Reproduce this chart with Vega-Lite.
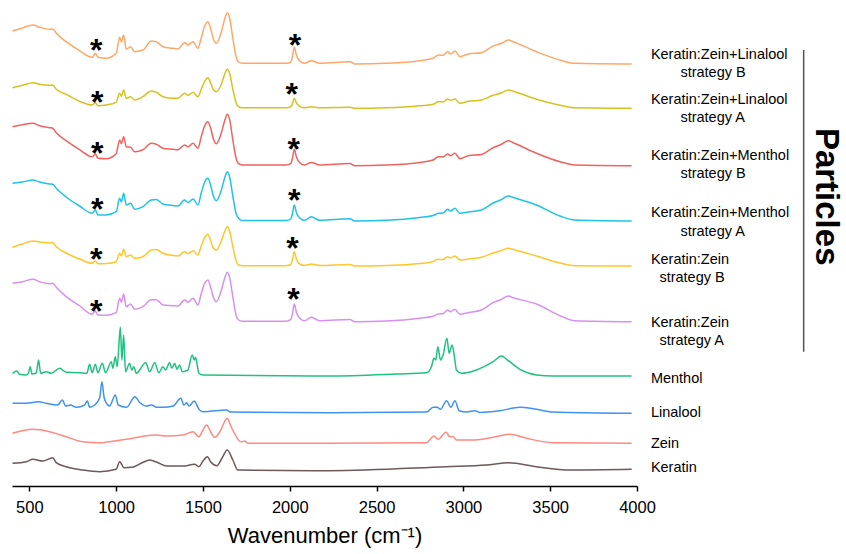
{
"$schema": "https://vega.github.io/schema/vega-lite/v6.json",
"width": 625, "height": 486,
"autosize": {"type": "none"},
"padding": {"left": 12, "top": 0, "right": 209, "bottom": 68},
"background": "white",
"config": {"view": {"stroke": null}, "font": "Liberation Sans"},
"datasets": {
"spectra": [
{"s":"LB","wn":403,"a":455},{"s":"LB","wn":460,"a":458},{"s":"LB","wn":520,"a":461},{"s":"LB","wn":559,"a":458.7},{"s":"LB","wn":616,"a":456.7},{"s":"LB","wn":635,"a":457},{"s":"LB","wn":655,"a":452.7},{"s":"LB","wn":712,"a":444.3},{"s":"LB","wn":789,"a":435.3},{"s":"LB","wn":862,"a":428.7},{"s":"LB","wn":880,"a":432.7},{"s":"LB","wn":895,"a":428.7},{"s":"LB","wn":943,"a":427.7},{"s":"LB","wn":1000,"a":432.7},{"s":"LB","wn":1020,"a":448.7},{"s":"LB","wn":1030,"a":444.3},{"s":"LB","wn":1043,"a":451},{"s":"LB","wn":1058,"a":436.7},{"s":"LB","wn":1083,"a":439.3},{"s":"LB","wn":1106,"a":434.3},{"s":"LB","wn":1154,"a":436},{"s":"LB","wn":1202,"a":445},{"s":"LB","wn":1231,"a":444.3},{"s":"LB","wn":1269,"a":439.3},{"s":"LB","wn":1327,"a":437.7},{"s":"LB","wn":1356,"a":437},{"s":"LB","wn":1394,"a":443.3},{"s":"LB","wn":1414,"a":441},{"s":"LB","wn":1443,"a":444.3},{"s":"LB","wn":1471,"a":437.7},{"s":"LB","wn":1490,"a":448},{"s":"LB","wn":1510,"a":460},{"s":"LB","wn":1528,"a":464.3},{"s":"LB","wn":1545,"a":457},{"s":"LB","wn":1560,"a":447},{"s":"LB","wn":1577,"a":442.7},{"s":"LB","wn":1606,"a":454.3},{"s":"LB","wn":1625,"a":467},{"s":"LB","wn":1640,"a":473.3},{"s":"LB","wn":1655,"a":467},{"s":"LB","wn":1670,"a":450},{"s":"LB","wn":1690,"a":430},{"s":"LB","wn":1705,"a":424},{"s":"LB","wn":1725,"a":422.7},{"s":"LB","wn":1980,"a":422.7},{"s":"LB","wn":2005,"a":424},{"s":"LB","wn":2015,"a":429},{"s":"LB","wn":2026,"a":438.7},{"s":"LB","wn":2038,"a":431},{"s":"LB","wn":2057,"a":425},{"s":"LB","wn":2085,"a":422.7},{"s":"LB","wn":2124,"a":425.3},{"s":"LB","wn":2172,"a":422.7},{"s":"LB","wn":2346,"a":424.3},{"s":"LB","wn":2375,"a":422},{"s":"LB","wn":2557,"a":422.7},{"s":"LB","wn":2749,"a":425.3},{"s":"LB","wn":2826,"a":427.7},{"s":"LB","wn":2855,"a":431},{"s":"LB","wn":2883,"a":430.7},{"s":"LB","wn":2909,"a":434.3},{"s":"LB","wn":2926,"a":432},{"s":"LB","wn":2951,"a":435},{"s":"LB","wn":2980,"a":429.3},{"s":"LB","wn":3028,"a":432},{"s":"LB","wn":3104,"a":433.3},{"s":"LB","wn":3171,"a":440},{"s":"LB","wn":3220,"a":442.7},{"s":"LB","wn":3258,"a":446},{"s":"LB","wn":3287,"a":444.3},{"s":"LB","wn":3421,"a":434.3},{"s":"LB","wn":3556,"a":426},{"s":"LB","wn":3642,"a":422.7},{"s":"LB","wn":3969,"a":422},
{"s":"LA","wn":403,"a":398.3},{"s":"LA","wn":460,"a":400.7},{"s":"LA","wn":520,"a":403.3},{"s":"LA","wn":559,"a":401.7},{"s":"LA","wn":616,"a":400.7},{"s":"LA","wn":635,"a":401},{"s":"LA","wn":655,"a":396.7},{"s":"LA","wn":712,"a":391.7},{"s":"LA","wn":789,"a":384.7},{"s":"LA","wn":862,"a":381},{"s":"LA","wn":880,"a":383.3},{"s":"LA","wn":895,"a":380.3},{"s":"LA","wn":943,"a":381},{"s":"LA","wn":1000,"a":383.7},{"s":"LA","wn":1020,"a":392.7},{"s":"LA","wn":1030,"a":389.7},{"s":"LA","wn":1043,"a":396},{"s":"LA","wn":1058,"a":387.7},{"s":"LA","wn":1083,"a":389.3},{"s":"LA","wn":1106,"a":386},{"s":"LA","wn":1154,"a":389.3},{"s":"LA","wn":1202,"a":395},{"s":"LA","wn":1231,"a":393.7},{"s":"LA","wn":1269,"a":389.3},{"s":"LA","wn":1327,"a":387.7},{"s":"LA","wn":1356,"a":387.7},{"s":"LA","wn":1394,"a":392.7},{"s":"LA","wn":1414,"a":390.7},{"s":"LA","wn":1443,"a":393.7},{"s":"LA","wn":1471,"a":389.3},{"s":"LA","wn":1490,"a":396.7},{"s":"LA","wn":1510,"a":404.7},{"s":"LA","wn":1528,"a":408.3},{"s":"LA","wn":1545,"a":402.7},{"s":"LA","wn":1560,"a":396.2},{"s":"LA","wn":1577,"a":394.3},{"s":"LA","wn":1606,"a":401.7},{"s":"LA","wn":1625,"a":411.7},{"s":"LA","wn":1640,"a":416.7},{"s":"LA","wn":1655,"a":411.7},{"s":"LA","wn":1670,"a":398.7},{"s":"LA","wn":1690,"a":383.7},{"s":"LA","wn":1705,"a":379.3},{"s":"LA","wn":1725,"a":378.2},{"s":"LA","wn":1980,"a":378.2},{"s":"LA","wn":2005,"a":379.2},{"s":"LA","wn":2015,"a":382.2},{"s":"LA","wn":2026,"a":387.7},{"s":"LA","wn":2038,"a":383.2},{"s":"LA","wn":2057,"a":379.7},{"s":"LA","wn":2085,"a":378.2},{"s":"LA","wn":2124,"a":379.3},{"s":"LA","wn":2172,"a":378.2},{"s":"LA","wn":2346,"a":378.7},{"s":"LA","wn":2375,"a":377.7},{"s":"LA","wn":2557,"a":378.2},{"s":"LA","wn":2749,"a":380.2},{"s":"LA","wn":2826,"a":381.7},{"s":"LA","wn":2855,"a":384.3},{"s":"LA","wn":2883,"a":384},{"s":"LA","wn":2909,"a":387},{"s":"LA","wn":2926,"a":385.7},{"s":"LA","wn":2951,"a":387},{"s":"LA","wn":2980,"a":382.7},{"s":"LA","wn":3028,"a":384.7},{"s":"LA","wn":3104,"a":386},{"s":"LA","wn":3171,"a":390.7},{"s":"LA","wn":3220,"a":393.2},{"s":"LA","wn":3258,"a":396},{"s":"LA","wn":3287,"a":394.7},{"s":"LA","wn":3421,"a":386.7},{"s":"LA","wn":3556,"a":380.7},{"s":"LA","wn":3642,"a":378.2},{"s":"LA","wn":3969,"a":377.7},
{"s":"MB","wn":403,"a":359.3},{"s":"MB","wn":460,"a":361.3},{"s":"MB","wn":520,"a":362.7},{"s":"MB","wn":559,"a":360.3},{"s":"MB","wn":616,"a":358.3},{"s":"MB","wn":635,"a":357.7},{"s":"MB","wn":655,"a":353.3},{"s":"MB","wn":712,"a":345.3},{"s":"MB","wn":789,"a":336.3},{"s":"MB","wn":862,"a":329.3},{"s":"MB","wn":880,"a":332},{"s":"MB","wn":895,"a":327.8},{"s":"MB","wn":943,"a":327.3},{"s":"MB","wn":1000,"a":332.3},{"s":"MB","wn":1020,"a":346},{"s":"MB","wn":1030,"a":342.3},{"s":"MB","wn":1043,"a":349.3},{"s":"MB","wn":1058,"a":339.3},{"s":"MB","wn":1083,"a":338.8},{"s":"MB","wn":1106,"a":334.3},{"s":"MB","wn":1154,"a":336.3},{"s":"MB","wn":1202,"a":342.7},{"s":"MB","wn":1231,"a":341.8},{"s":"MB","wn":1269,"a":337.8},{"s":"MB","wn":1327,"a":336.8},{"s":"MB","wn":1356,"a":336.3},{"s":"MB","wn":1394,"a":341},{"s":"MB","wn":1414,"a":339.3},{"s":"MB","wn":1443,"a":342.7},{"s":"MB","wn":1471,"a":337.7},{"s":"MB","wn":1490,"a":349.3},{"s":"MB","wn":1510,"a":360.3},{"s":"MB","wn":1528,"a":364.3},{"s":"MB","wn":1545,"a":357.3},{"s":"MB","wn":1560,"a":347.3},{"s":"MB","wn":1577,"a":342.3},{"s":"MB","wn":1606,"a":353.3},{"s":"MB","wn":1625,"a":365.3},{"s":"MB","wn":1640,"a":371.7},{"s":"MB","wn":1655,"a":365.3},{"s":"MB","wn":1670,"a":348.3},{"s":"MB","wn":1690,"a":328.3},{"s":"MB","wn":1705,"a":322.3},{"s":"MB","wn":1725,"a":321},{"s":"MB","wn":1980,"a":321},{"s":"MB","wn":2005,"a":322.3},{"s":"MB","wn":2015,"a":327.3},{"s":"MB","wn":2026,"a":336.7},{"s":"MB","wn":2038,"a":329.3},{"s":"MB","wn":2057,"a":323.3},{"s":"MB","wn":2085,"a":321},{"s":"MB","wn":2124,"a":323.6},{"s":"MB","wn":2172,"a":321},{"s":"MB","wn":2346,"a":322.6},{"s":"MB","wn":2375,"a":320.3},{"s":"MB","wn":2557,"a":321},{"s":"MB","wn":2749,"a":323.6},{"s":"MB","wn":2826,"a":326},{"s":"MB","wn":2855,"a":329.3},{"s":"MB","wn":2883,"a":329},{"s":"MB","wn":2909,"a":332},{"s":"MB","wn":2926,"a":330.3},{"s":"MB","wn":2951,"a":332.7},{"s":"MB","wn":2980,"a":327.3},{"s":"MB","wn":3028,"a":330.3},{"s":"MB","wn":3104,"a":331.6},{"s":"MB","wn":3171,"a":338.3},{"s":"MB","wn":3220,"a":341.8},{"s":"MB","wn":3258,"a":345.3},{"s":"MB","wn":3287,"a":343.3},{"s":"MB","wn":3421,"a":332.8},{"s":"MB","wn":3556,"a":324.3},{"s":"MB","wn":3642,"a":321},{"s":"MB","wn":3969,"a":320.3},
{"s":"MA","wn":403,"a":302.7},{"s":"MA","wn":460,"a":304},{"s":"MA","wn":520,"a":306},{"s":"MA","wn":559,"a":304},{"s":"MA","wn":616,"a":302},{"s":"MA","wn":635,"a":301.7},{"s":"MA","wn":655,"a":297.7},{"s":"MA","wn":712,"a":289},{"s":"MA","wn":789,"a":280},{"s":"MA","wn":862,"a":272.7},{"s":"MA","wn":880,"a":276},{"s":"MA","wn":895,"a":271},{"s":"MA","wn":943,"a":271},{"s":"MA","wn":1000,"a":274.3},{"s":"MA","wn":1020,"a":287.7},{"s":"MA","wn":1030,"a":284},{"s":"MA","wn":1043,"a":292.7},{"s":"MA","wn":1058,"a":281},{"s":"MA","wn":1083,"a":282.7},{"s":"MA","wn":1106,"a":276.7},{"s":"MA","wn":1154,"a":279.3},{"s":"MA","wn":1202,"a":286},{"s":"MA","wn":1231,"a":286.5},{"s":"MA","wn":1269,"a":282},{"s":"MA","wn":1327,"a":280.5},{"s":"MA","wn":1356,"a":280},{"s":"MA","wn":1394,"a":286},{"s":"MA","wn":1414,"a":283.5},{"s":"MA","wn":1443,"a":287},{"s":"MA","wn":1471,"a":281},{"s":"MA","wn":1490,"a":293},{"s":"MA","wn":1510,"a":304},{"s":"MA","wn":1528,"a":307.7},{"s":"MA","wn":1545,"a":300},{"s":"MA","wn":1560,"a":290},{"s":"MA","wn":1577,"a":285.3},{"s":"MA","wn":1606,"a":296},{"s":"MA","wn":1625,"a":308},{"s":"MA","wn":1640,"a":314.3},{"s":"MA","wn":1655,"a":308},{"s":"MA","wn":1670,"a":292},{"s":"MA","wn":1690,"a":273},{"s":"MA","wn":1705,"a":267.7},{"s":"MA","wn":1725,"a":265.5},{"s":"MA","wn":1980,"a":265.5},{"s":"MA","wn":2005,"a":267},{"s":"MA","wn":2015,"a":272},{"s":"MA","wn":2026,"a":281},{"s":"MA","wn":2038,"a":273.5},{"s":"MA","wn":2057,"a":268},{"s":"MA","wn":2085,"a":265.7},{"s":"MA","wn":2124,"a":269.3},{"s":"MA","wn":2172,"a":265.7},{"s":"MA","wn":2346,"a":267.3},{"s":"MA","wn":2375,"a":265},{"s":"MA","wn":2557,"a":265.7},{"s":"MA","wn":2749,"a":268.5},{"s":"MA","wn":2826,"a":270.5},{"s":"MA","wn":2855,"a":272.7},{"s":"MA","wn":2883,"a":273},{"s":"MA","wn":2909,"a":276.7},{"s":"MA","wn":2926,"a":275},{"s":"MA","wn":2951,"a":277.7},{"s":"MA","wn":2980,"a":272.7},{"s":"MA","wn":3028,"a":274},{"s":"MA","wn":3104,"a":276},{"s":"MA","wn":3171,"a":283},{"s":"MA","wn":3220,"a":286.5},{"s":"MA","wn":3258,"a":290},{"s":"MA","wn":3287,"a":288.5},{"s":"MA","wn":3421,"a":281},{"s":"MA","wn":3556,"a":270},{"s":"MA","wn":3642,"a":266},{"s":"MA","wn":3969,"a":265},
{"s":"ZB","wn":403,"a":238.7},{"s":"ZB","wn":460,"a":242},{"s":"ZB","wn":520,"a":245},{"s":"ZB","wn":559,"a":244},{"s":"ZB","wn":616,"a":243},{"s":"ZB","wn":635,"a":243.3},{"s":"ZB","wn":655,"a":239.3},{"s":"ZB","wn":712,"a":233},{"s":"ZB","wn":789,"a":227},{"s":"ZB","wn":862,"a":222.7},{"s":"ZB","wn":880,"a":225},{"s":"ZB","wn":895,"a":222.3},{"s":"ZB","wn":943,"a":222.5},{"s":"ZB","wn":1000,"a":224.3},{"s":"ZB","wn":1020,"a":232.7},{"s":"ZB","wn":1030,"a":230},{"s":"ZB","wn":1043,"a":236.7},{"s":"ZB","wn":1058,"a":229.3},{"s":"ZB","wn":1083,"a":231},{"s":"ZB","wn":1106,"a":227.7},{"s":"ZB","wn":1154,"a":229.3},{"s":"ZB","wn":1202,"a":236},{"s":"ZB","wn":1231,"a":236.5},{"s":"ZB","wn":1269,"a":232.7},{"s":"ZB","wn":1327,"a":230.5},{"s":"ZB","wn":1356,"a":230},{"s":"ZB","wn":1394,"a":234.3},{"s":"ZB","wn":1414,"a":232.5},{"s":"ZB","wn":1443,"a":235.3},{"s":"ZB","wn":1471,"a":231},{"s":"ZB","wn":1490,"a":240},{"s":"ZB","wn":1510,"a":248.5},{"s":"ZB","wn":1528,"a":251.7},{"s":"ZB","wn":1545,"a":245},{"s":"ZB","wn":1560,"a":238},{"s":"ZB","wn":1577,"a":236},{"s":"ZB","wn":1606,"a":245},{"s":"ZB","wn":1625,"a":254.5},{"s":"ZB","wn":1640,"a":259.3},{"s":"ZB","wn":1655,"a":254},{"s":"ZB","wn":1670,"a":241},{"s":"ZB","wn":1690,"a":226},{"s":"ZB","wn":1705,"a":221},{"s":"ZB","wn":1725,"a":220.3},{"s":"ZB","wn":1980,"a":220.3},{"s":"ZB","wn":2005,"a":221.5},{"s":"ZB","wn":2015,"a":226},{"s":"ZB","wn":2026,"a":234.3},{"s":"ZB","wn":2038,"a":227},{"s":"ZB","wn":2057,"a":222},{"s":"ZB","wn":2085,"a":220.5},{"s":"ZB","wn":2124,"a":222},{"s":"ZB","wn":2172,"a":220.5},{"s":"ZB","wn":2346,"a":221.5},{"s":"ZB","wn":2375,"a":220},{"s":"ZB","wn":2557,"a":220.5},{"s":"ZB","wn":2749,"a":222.5},{"s":"ZB","wn":2826,"a":224.5},{"s":"ZB","wn":2855,"a":226.7},{"s":"ZB","wn":2883,"a":226.5},{"s":"ZB","wn":2909,"a":229.3},{"s":"ZB","wn":2926,"a":228},{"s":"ZB","wn":2951,"a":230},{"s":"ZB","wn":2980,"a":226},{"s":"ZB","wn":3028,"a":227},{"s":"ZB","wn":3104,"a":228.7},{"s":"ZB","wn":3171,"a":233},{"s":"ZB","wn":3220,"a":235.5},{"s":"ZB","wn":3258,"a":237.7},{"s":"ZB","wn":3287,"a":236.5},{"s":"ZB","wn":3421,"a":230},{"s":"ZB","wn":3556,"a":223},{"s":"ZB","wn":3642,"a":220.3},{"s":"ZB","wn":3969,"a":220},
{"s":"ZA","wn":403,"a":202.7},{"s":"ZA","wn":460,"a":204.3},{"s":"ZA","wn":520,"a":206.7},{"s":"ZA","wn":559,"a":204.3},{"s":"ZA","wn":616,"a":202.3},{"s":"ZA","wn":635,"a":202.7},{"s":"ZA","wn":655,"a":198.7},{"s":"ZA","wn":712,"a":189.3},{"s":"ZA","wn":789,"a":180.3},{"s":"ZA","wn":862,"a":171.7},{"s":"ZA","wn":880,"a":175},{"s":"ZA","wn":895,"a":171},{"s":"ZA","wn":943,"a":170.8},{"s":"ZA","wn":1000,"a":173.3},{"s":"ZA","wn":1020,"a":187.7},{"s":"ZA","wn":1030,"a":183.8},{"s":"ZA","wn":1043,"a":192},{"s":"ZA","wn":1058,"a":179.3},{"s":"ZA","wn":1083,"a":182},{"s":"ZA","wn":1106,"a":176.7},{"s":"ZA","wn":1154,"a":179.3},{"s":"ZA","wn":1202,"a":186.3},{"s":"ZA","wn":1231,"a":186.3},{"s":"ZA","wn":1269,"a":181},{"s":"ZA","wn":1327,"a":180.3},{"s":"ZA","wn":1356,"a":180},{"s":"ZA","wn":1394,"a":186},{"s":"ZA","wn":1414,"a":183.8},{"s":"ZA","wn":1443,"a":187.7},{"s":"ZA","wn":1471,"a":181},{"s":"ZA","wn":1490,"a":192.3},{"s":"ZA","wn":1510,"a":202.8},{"s":"ZA","wn":1528,"a":206},{"s":"ZA","wn":1545,"a":198.3},{"s":"ZA","wn":1560,"a":188.8},{"s":"ZA","wn":1577,"a":184.3},{"s":"ZA","wn":1606,"a":195.8},{"s":"ZA","wn":1625,"a":207.8},{"s":"ZA","wn":1640,"a":213.7},{"s":"ZA","wn":1655,"a":207.3},{"s":"ZA","wn":1670,"a":191.3},{"s":"ZA","wn":1690,"a":171.3},{"s":"ZA","wn":1705,"a":166},{"s":"ZA","wn":1725,"a":164.8},{"s":"ZA","wn":1980,"a":164.8},{"s":"ZA","wn":2005,"a":166.3},{"s":"ZA","wn":2015,"a":171.8},{"s":"ZA","wn":2026,"a":182},{"s":"ZA","wn":2038,"a":173.8},{"s":"ZA","wn":2057,"a":167.8},{"s":"ZA","wn":2085,"a":165.3},{"s":"ZA","wn":2124,"a":168.7},{"s":"ZA","wn":2172,"a":165.3},{"s":"ZA","wn":2346,"a":166.6},{"s":"ZA","wn":2375,"a":164.3},{"s":"ZA","wn":2557,"a":165},{"s":"ZA","wn":2749,"a":167.8},{"s":"ZA","wn":2826,"a":169.8},{"s":"ZA","wn":2855,"a":172},{"s":"ZA","wn":2883,"a":172.3},{"s":"ZA","wn":2909,"a":176},{"s":"ZA","wn":2926,"a":174.3},{"s":"ZA","wn":2951,"a":176.7},{"s":"ZA","wn":2980,"a":171.7},{"s":"ZA","wn":3028,"a":173.3},{"s":"ZA","wn":3104,"a":176},{"s":"ZA","wn":3171,"a":183.3},{"s":"ZA","wn":3220,"a":186.8},{"s":"ZA","wn":3258,"a":190},{"s":"ZA","wn":3287,"a":188.3},{"s":"ZA","wn":3421,"a":182},{"s":"ZA","wn":3556,"a":170.3},{"s":"ZA","wn":3642,"a":165.3},{"s":"ZA","wn":3969,"a":164.3},
{"s":"ME","wn":403,"a":112.7},{"s":"ME","wn":428,"a":115},{"s":"ME","wn":443,"a":111.7},{"s":"ME","wn":482,"a":111},{"s":"ME","wn":495,"a":113},{"s":"ME","wn":505,"a":119.3},{"s":"ME","wn":515,"a":112},{"s":"ME","wn":540,"a":113},{"s":"ME","wn":553,"a":126},{"s":"ME","wn":565,"a":112.7},{"s":"ME","wn":597,"a":114.3},{"s":"ME","wn":626,"a":112.7},{"s":"ME","wn":674,"a":117.7},{"s":"ME","wn":712,"a":113.7},{"s":"ME","wn":789,"a":113.3},{"s":"ME","wn":831,"a":112.7},{"s":"ME","wn":847,"a":121.7},{"s":"ME","wn":862,"a":113.3},{"s":"ME","wn":880,"a":121.7},{"s":"ME","wn":895,"a":113.3},{"s":"ME","wn":920,"a":122.7},{"s":"ME","wn":939,"a":113.3},{"s":"ME","wn":972,"a":124.3},{"s":"ME","wn":981,"a":117.7},{"s":"ME","wn":995,"a":129.3},{"s":"ME","wn":1006,"a":119.3},{"s":"ME","wn":1024,"a":158.7},{"s":"ME","wn":1033,"a":126},{"s":"ME","wn":1043,"a":151},{"s":"ME","wn":1054,"a":114.3},{"s":"ME","wn":1077,"a":122.7},{"s":"ME","wn":1090,"a":116},{"s":"ME","wn":1102,"a":119.3},{"s":"ME","wn":1116,"a":112.7},{"s":"ME","wn":1170,"a":123.3},{"s":"ME","wn":1193,"a":114.3},{"s":"ME","wn":1222,"a":123.3},{"s":"ME","wn":1246,"a":113.3},{"s":"ME","wn":1269,"a":119.3},{"s":"ME","wn":1285,"a":116},{"s":"ME","wn":1308,"a":123.3},{"s":"ME","wn":1321,"a":117.7},{"s":"ME","wn":1337,"a":122.7},{"s":"ME","wn":1350,"a":116.7},{"s":"ME","wn":1365,"a":121},{"s":"ME","wn":1381,"a":114.3},{"s":"ME","wn":1413,"a":116},{"s":"ME","wn":1438,"a":131},{"s":"ME","wn":1450,"a":126},{"s":"ME","wn":1457,"a":128.7},{"s":"ME","wn":1477,"a":112.7},{"s":"ME","wn":1500,"a":111},{"s":"ME","wn":2229,"a":110},{"s":"ME","wn":2615,"a":112},{"s":"ME","wn":2787,"a":113.3},{"s":"ME","wn":2816,"a":119.3},{"s":"ME","wn":2830,"a":127.7},{"s":"ME","wn":2841,"a":126},{"s":"ME","wn":2853,"a":139.3},{"s":"ME","wn":2868,"a":126},{"s":"ME","wn":2883,"a":131},{"s":"ME","wn":2905,"a":147.7},{"s":"ME","wn":2918,"a":132.7},{"s":"ME","wn":2935,"a":141},{"s":"ME","wn":2947,"a":131},{"s":"ME","wn":2960,"a":116},{"s":"ME","wn":2989,"a":112.7},{"s":"ME","wn":3075,"a":116},{"s":"ME","wn":3171,"a":124.3},{"s":"ME","wn":3220,"a":130},{"s":"ME","wn":3249,"a":126.7},{"s":"ME","wn":3326,"a":116.7},{"s":"ME","wn":3421,"a":111},{"s":"ME","wn":3517,"a":110},{"s":"ME","wn":3969,"a":110},
{"s":"LI","wn":403,"a":82.7},{"s":"LI","wn":482,"a":82.7},{"s":"LI","wn":554,"a":84.3},{"s":"LI","wn":597,"a":82.7},{"s":"LI","wn":664,"a":81},{"s":"LI","wn":690,"a":86},{"s":"LI","wn":709,"a":80},{"s":"LI","wn":736,"a":81},{"s":"LI","wn":771,"a":78.7},{"s":"LI","wn":818,"a":81},{"s":"LI","wn":834,"a":85},{"s":"LI","wn":847,"a":78.7},{"s":"LI","wn":876,"a":81},{"s":"LI","wn":905,"a":88},{"s":"LI","wn":918,"a":104.3},{"s":"LI","wn":930,"a":89},{"s":"LI","wn":940,"a":84},{"s":"LI","wn":962,"a":80},{"s":"LI","wn":995,"a":91},{"s":"LI","wn":1012,"a":81},{"s":"LI","wn":1060,"a":78.7},{"s":"LI","wn":1108,"a":89.3},{"s":"LI","wn":1137,"a":83.3},{"s":"LI","wn":1175,"a":80},{"s":"LI","wn":1204,"a":81},{"s":"LI","wn":1233,"a":78.7},{"s":"LI","wn":1271,"a":78.7},{"s":"LI","wn":1329,"a":80},{"s":"LI","wn":1372,"a":87.7},{"s":"LI","wn":1391,"a":81},{"s":"LI","wn":1406,"a":83.3},{"s":"LI","wn":1420,"a":80},{"s":"LI","wn":1449,"a":85},{"s":"LI","wn":1480,"a":76},{"s":"LI","wn":1503,"a":74.3},{"s":"LI","wn":1637,"a":76},{"s":"LI","wn":1656,"a":74},{"s":"LI","wn":2229,"a":73.3},{"s":"LI","wn":2787,"a":74},{"s":"LI","wn":2826,"a":78.7},{"s":"LI","wn":2849,"a":78.7},{"s":"LI","wn":2868,"a":76.7},{"s":"LI","wn":2903,"a":85.3},{"s":"LI","wn":2928,"a":78.7},{"s":"LI","wn":2951,"a":85.3},{"s":"LI","wn":2976,"a":75.3},{"s":"LI","wn":3019,"a":74},{"s":"LI","wn":3067,"a":75.3},{"s":"LI","wn":3095,"a":73.6},{"s":"LI","wn":3210,"a":75.3},{"s":"LI","wn":3326,"a":78.7},{"s":"LI","wn":3403,"a":77.3},{"s":"LI","wn":3517,"a":74},{"s":"LI","wn":3969,"a":72.7},
{"s":"ZE","wn":403,"a":52.7},{"s":"ZE","wn":520,"a":56.7},{"s":"ZE","wn":616,"a":54.3},{"s":"ZE","wn":712,"a":49.3},{"s":"ZE","wn":808,"a":44.3},{"s":"ZE","wn":904,"a":43.3},{"s":"ZE","wn":1000,"a":45.3},{"s":"ZE","wn":1096,"a":47.7},{"s":"ZE","wn":1164,"a":50},{"s":"ZE","wn":1231,"a":51},{"s":"ZE","wn":1289,"a":50},{"s":"ZE","wn":1385,"a":51},{"s":"ZE","wn":1443,"a":54.3},{"s":"ZE","wn":1476,"a":49.3},{"s":"ZE","wn":1500,"a":56},{"s":"ZE","wn":1520,"a":61},{"s":"ZE","wn":1545,"a":54},{"s":"ZE","wn":1567,"a":48.7},{"s":"ZE","wn":1605,"a":56.7},{"s":"ZE","wn":1625,"a":64.7},{"s":"ZE","wn":1640,"a":67.7},{"s":"ZE","wn":1660,"a":60},{"s":"ZE","wn":1682,"a":52.7},{"s":"ZE","wn":1710,"a":45},{"s":"ZE","wn":1721,"a":44.3},{"s":"ZE","wn":1740,"a":45},{"s":"ZE","wn":1759,"a":42.7},{"s":"ZE","wn":2229,"a":42.7},{"s":"ZE","wn":2787,"a":43.3},{"s":"ZE","wn":2831,"a":50},{"s":"ZE","wn":2855,"a":46.7},{"s":"ZE","wn":2900,"a":53.7},{"s":"ZE","wn":2922,"a":49.3},{"s":"ZE","wn":2941,"a":49.3},{"s":"ZE","wn":2960,"a":46},{"s":"ZE","wn":3067,"a":46},{"s":"ZE","wn":3171,"a":48.7},{"s":"ZE","wn":3268,"a":51.7},{"s":"ZE","wn":3364,"a":47.7},{"s":"ZE","wn":3517,"a":43.3},{"s":"ZE","wn":3969,"a":42.7},
{"s":"KE","wn":403,"a":22.7},{"s":"KE","wn":482,"a":24.3},{"s":"KE","wn":520,"a":26.7},{"s":"KE","wn":578,"a":25},{"s":"KE","wn":635,"a":28.3},{"s":"KE","wn":655,"a":23.3},{"s":"KE","wn":712,"a":19.3},{"s":"KE","wn":808,"a":16},{"s":"KE","wn":904,"a":14.3},{"s":"KE","wn":1000,"a":16.7},{"s":"KE","wn":1020,"a":24.3},{"s":"KE","wn":1045,"a":18.3},{"s":"KE","wn":1093,"a":18.7},{"s":"KE","wn":1150,"a":23.3},{"s":"KE","wn":1193,"a":26},{"s":"KE","wn":1241,"a":23.3},{"s":"KE","wn":1289,"a":20},{"s":"KE","wn":1385,"a":20},{"s":"KE","wn":1452,"a":21.7},{"s":"KE","wn":1477,"a":19.3},{"s":"KE","wn":1500,"a":25},{"s":"KE","wn":1525,"a":29.3},{"s":"KE","wn":1545,"a":24},{"s":"KE","wn":1580,"a":20.3},{"s":"KE","wn":1610,"a":28},{"s":"KE","wn":1640,"a":36},{"s":"KE","wn":1672,"a":26},{"s":"KE","wn":1701,"a":16},{"s":"KE","wn":2229,"a":15.3},{"s":"KE","wn":2900,"a":19.3},{"s":"KE","wn":3133,"a":21},{"s":"KE","wn":3262,"a":23.3},{"s":"KE","wn":3421,"a":19.3},{"s":"KE","wn":3614,"a":16},{"s":"KE","wn":3969,"a":16.7}
],
"labels": [
{"label":"Keratin:Zein+Linalool","sub":"strategy B","ly":431,"sy":412.7,"g":"long"},
{"label":"Keratin:Zein+Linalool","sub":"strategy A","ly":386,"sy":367.7,"g":"long"},
{"label":"Keratin:Zein+Menthol","sub":"strategy B","ly":330,"sy":312,"g":"long"},
{"label":"Keratin:Zein+Menthol","sub":"strategy A","ly":272.7,"sy":253.7,"g":"long"},
{"label":"Keratin:Zein","sub":"strategy B","ly":226,"sy":207.7,"g":"short"},
{"label":"Keratin:Zein","sub":"strategy A","ly":163.3,"sy":145.3,"g":"short"},
{"label":"Menthol","sub":"","ly":106.7,"sy":106.7,"g":"none"},
{"label":"Linalool","sub":"","ly":73.3,"sy":73.3,"g":"none"},
{"label":"Zein","sub":"","ly":41.7,"sy":41.7,"g":"none"},
{"label":"Keratin","sub":"","ly":18.3,"sy":18.3,"g":"none"}
],
"stars": [
{"wn":885,"y":443.3},{"wn":2030,"y":447.7},
{"wn":891,"y":391},{"wn":2011,"y":398.7},
{"wn":891,"y":340.3},{"wn":2022,"y":344.3},
{"wn":891,"y":284.3},{"wn":2026,"y":292.7},
{"wn":885,"y":233.7},{"wn":2015,"y":245.3},
{"wn":885,"y":182},{"wn":2021,"y":193.7}
]
},
"layer": [
{"data":{"name":"spectra"},
 "mark":{"type":"line","interpolate":"monotone","strokeWidth":1.5},
 "encoding":{
  "x":{"field":"wn","type":"quantitative","scale":{"domain":[400,4000],"nice":false,"zero":false},
   "axis":{"values":[500,1000,1500,2000,2500,3000,3500,4000],"format":"d","title":"Wavenumber (cm⁻¹)","grid":false,"domainColor":"black","domainWidth":1.5,"tickColor":"black","tickWidth":1.5,"tickSize":5,"labelFontSize":16.5,"labelColor":"black","labelPadding":8,"labelFlush":false,"titleFontSize":22,"titleFontWeight":"normal","titleColor":"black","titlePadding":10}},
  "y":{"field":"a","type":"quantitative","scale":{"domain":[0,486],"nice":false,"zero":false},"axis":null},
  "color":{"field":"s","type":"nominal","legend":null,"scale":{"domain":["LB","LA","MB","MA","ZB","ZA","ME","LI","ZE","KE"],"range":["#FFA767","#D6C21F","#F0625E","#1FC3E6","#FFC52A","#D890EE","#1FC27F","#3D92F2","#FF8A80","#6E5858"]}}
 }},
{"data":{"name":"stars"},
 "mark":{"type":"text","text":"*","fontSize":32,"fontWeight":"bold","align":"center","baseline":"alphabetic","dy":18,"color":"black"},
 "encoding":{"x":{"field":"wn","type":"quantitative"},"y":{"field":"y","type":"quantitative"}}},
{"data":{"name":"labels"},
 "mark":{"type":"text","align":"left","baseline":"middle","fontSize":14.5,"color":"black"},
 "encoding":{"x":{"datum":4080,"type":"quantitative"},"y":{"field":"ly","type":"quantitative"},"text":{"field":"label"}}},
{"data":{"name":"labels"},"transform":[{"filter":"datum.g === 'long'"}],
 "mark":{"type":"text","align":"left","baseline":"middle","fontSize":14.5,"color":"black"},
 "encoding":{"x":{"datum":4250,"type":"quantitative"},"y":{"field":"sy","type":"quantitative"},"text":{"field":"sub"}}},
{"data":{"name":"labels"},"transform":[{"filter":"datum.g === 'short'"}],
 "mark":{"type":"text","align":"left","baseline":"middle","fontSize":14.5,"color":"black"},
 "encoding":{"x":{"datum":4129,"type":"quantitative"},"y":{"field":"sy","type":"quantitative"},"text":{"field":"sub"}}},
{"data":{"values":[{}]},
 "mark":{"type":"rule","color":"#555555","strokeWidth":1.5},
 "encoding":{"x":{"datum":4960,"type":"quantitative"},"y":{"datum":436,"type":"quantitative"},"y2":{"datum":134.3}}},
{"data":{"values":[{}]},
 "mark":{"type":"text","text":"Particles","angle":90,"fontSize":33,"fontWeight":"bold","align":"center","baseline":"middle","color":"black"},
 "encoding":{"x":{"datum":5090,"type":"quantitative"},"y":{"datum":289.3,"type":"quantitative"}}}
]
}
